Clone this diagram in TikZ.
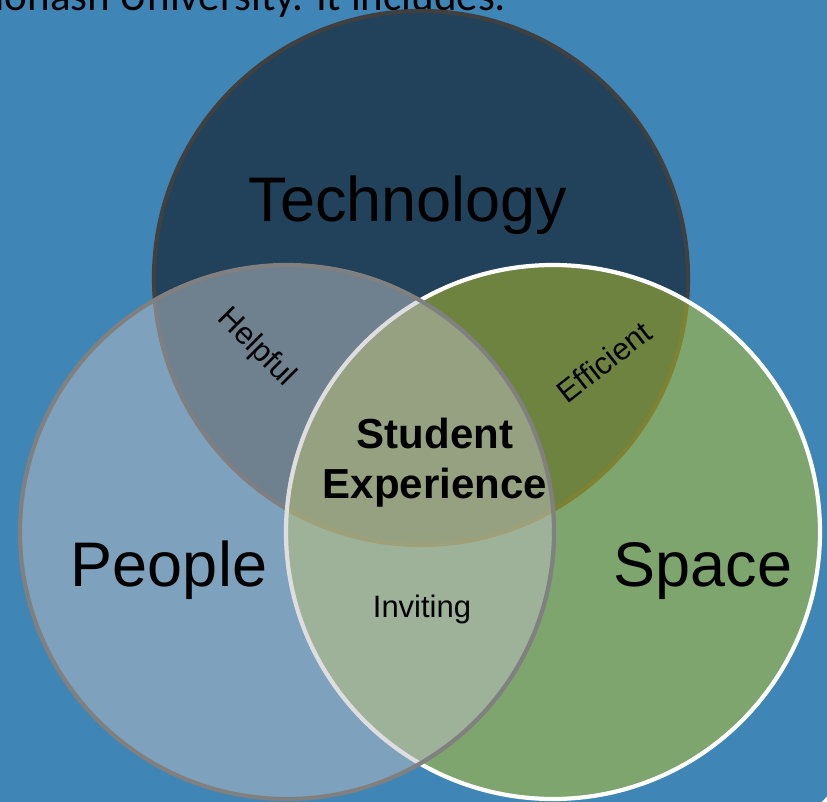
\documentclass[tikz,border=0pt]{standalone}
\usepackage{fontspec}
\setmainfont{Liberation Sans}
\newfontfamily\introfont{Carlito}

\definecolor{slideblue}{RGB}{63,134,183}
\definecolor{techfill}{RGB}{33,66,90}
\definecolor{techline}{RGB}{64,64,64}
\definecolor{spacefill}{RGB}{188,197,37}
\definecolor{peoplefill}{RGB}{190,191,195}
\definecolor{peopleline}{RGB}{128,128,128}

\tikzset{
  venn/.style={circle, minimum size=534pt, inner sep=0pt, outer sep=0pt, line width=4.2pt},
  bigword/.style={font=\fontsize{63}{63}\selectfont, anchor=base},
  smallword/.style={font=\fontsize{31}{31}\selectfont},
  centreword/.style={font=\bfseries\fontsize{42}{50}\selectfont, align=center}
}

\begin{document}
\begin{tikzpicture}[x=1pt,y=-1pt]
  \useasboundingbox (0,0) rectangle (827,802);
  \clip (0,0) rectangle (827,802);

  % slide background
  \fill[white] (0,0) rectangle (827,802);
  \fill[slideblue, rounded corners=40pt] (-40,-40) rectangle (835,812);

  % line of slide text above the diagram
  \node[anchor=base west, inner sep=0pt, text=black,
        font=\introfont\fontsize{43}{43}\selectfont] (intro) at (-32,11)
        {Monash University. It includes:};

  % the three circles
  \node[venn, draw=techline, fill=techfill] (tech) at (421,278) {};
  \node[venn, draw=white, fill=spacefill, fill opacity=0.5, draw opacity=1] (space) at (553,532) {};
  \node[venn, draw=peopleline, fill=peoplefill, fill opacity=0.5, draw opacity=1] (people) at (287,532) {};

  % labels
  \node[bigword] (techlabel) at (408,222) {Technology};
  \node[bigword] (peoplelabel) at (169,586) {People};
  \node[bigword] (spacelabel) at (703,586) {Space};

  \node[smallword, rotate=-45] (helpful) at (256,348) {Helpful};
  \node[smallword, rotate=38] (efficient) at (604,362) {Efficient};
  \node[smallword, anchor=base] (inviting) at (422,617) {Inviting};

  \node[centreword] (core) at (435,463) {Student\\Experience};
\end{tikzpicture}
\end{document}
